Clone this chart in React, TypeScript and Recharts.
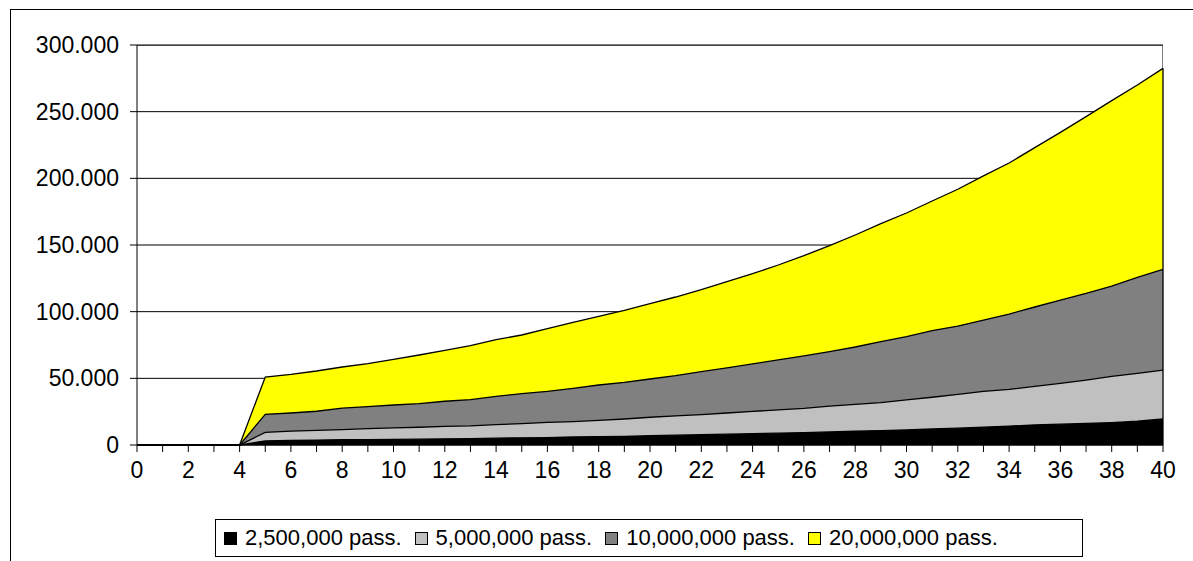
import { AreaChart, Area, XAxis, YAxis, CartesianGrid, Legend, ReferenceLine } from 'recharts'

const years = [
  0, 1, 2, 3, 4, 5, 6, 7, 8, 9, 10, 11, 12, 13, 14, 15, 16, 17, 18, 19, 20,
  21, 22, 23, 24, 25, 26, 27, 28, 29, 30, 31, 32, 33, 34, 35, 36, 37, 38, 39, 40,
]

const pass2500k = [
  0, 0, 0, 0, 0, 3000, 3500, 3700, 4000, 4100, 4200, 4400, 4600, 4700, 5100, 5400, 5600, 6000, 6200, 6500,
  7000, 7400, 7700, 8100, 8500, 8900, 9300, 9800, 10300, 10800, 11300, 12000, 12600, 13400, 14200, 15000,
  15600, 16200, 16800, 17800, 19500,
]

const pass5000k = [
  0, 0, 0, 0, 0, 9500, 10400, 10900, 11600, 12300, 12800, 13300, 14000, 14300, 15300, 16000, 16900, 17600,
  18500, 19500, 20800, 21800, 22800, 24000, 25200, 26300, 27500, 29200, 30500, 31800, 33800, 35800, 38000,
  40200, 41700, 44000, 46200, 48700, 51500, 53700, 56200,
]

const pass10000k = [
  0, 0, 0, 0, 0, 23000, 24000, 25300, 27600, 28800, 30000, 31000, 32800, 34000, 36500, 38500, 40200, 42500,
  45000, 47000, 49500, 52000, 55000, 57800, 60800, 63800, 66800, 70000, 73500, 77500, 81300, 85700, 89200,
  93700, 98200, 103500, 108700, 113700, 119200, 125700, 131700,
]

const pass20000k = [
  0, 0, 0, 0, 0, 51000, 53000, 55500, 58500, 61000, 64300, 67500, 71000, 74500, 79000, 82500, 87300, 92000,
  96500, 101000, 106000, 111000, 116500, 122500, 128500, 135000, 142000, 149500, 157500, 166000, 174000,
  183000, 191800, 201800, 211500, 223000, 234500, 246300, 258300, 270000, 282500,
]

const yTicks = [0, 50000, 100000, 150000, 200000, 250000, 300000]

const series = [
  { key: 'p2500', name: '2,500,000 pass.', color: '#000000' },
  { key: 'p5000', name: '5,000,000 pass.', color: '#C0C0C0' },
  { key: 'p10000', name: '10,000,000 pass.', color: '#808080' },
  { key: 'p20000', name: '20,000,000 pass.', color: '#FFFF00' },
]

const data = years.map((year, i) => ({
  year,
  p2500: pass2500k[i],
  p5000: pass5000k[i],
  p10000: pass10000k[i],
  p20000: pass20000k[i],
}))

const FONT = '"Liberation Sans", Arial, sans-serif'

const formatY = (v: number) => (v === 0 ? '0' : `${v / 1000}.000`)

function LegendBox() {
  return (
    <div
      style={{
        display: 'flex',
        alignItems: 'center',
        height: 38,
        border: '1px solid #000',
        background: '#fff',
        paddingLeft: 8,
        fontFamily: FONT,
        fontSize: 22,
        color: '#000',
        boxSizing: 'border-box',
      }}
    >
      {series.map((s) => (
        <div key={s.key} style={{ display: 'flex', alignItems: 'center', marginRight: 13 }}>
          <span
            style={{
              display: 'inline-block',
              width: 11,
              height: 11,
              background: s.color,
              border: '1px solid #000',
              marginRight: 8,
            }}
          />
          <span style={{ whiteSpace: 'nowrap' }}>{s.name}</span>
        </div>
      ))}
    </div>
  )
}

export default function App() {
  // areas overlap, so draw the biggest one first
  const drawOrder = [...series].reverse()
  return (
    <div
      style={{
        position: 'absolute',
        left: 0,
        top: 0,
        width: 1193,
        height: 561,
        overflow: 'hidden',
        background: '#fff',
      }}
    >
      <div
        style={{
          position: 'absolute',
          left: 10,
          top: 9,
          width: 1300,
          height: 700,
          borderTop: '1px solid #000',
          borderLeft: '1px solid #000',
        }}
      />
      <div
        style={{
          position: 'absolute',
          left: 137,
          top: 45,
          width: 1026,
          height: 400,
          borderTop: '1px solid #808080',
          borderRight: '1px solid #808080',
          boxSizing: 'border-box',
        }}
      />
      <div style={{ position: 'absolute', left: 0, top: 0 }}>
        <AreaChart
          width={1193}
          height={561}
          data={data}
          margin={{ top: 45, right: 30, bottom: 0, left: 0 }}
          style={{ fontFamily: FONT }}
        >
          <CartesianGrid vertical={false} stroke="#000" />
          <XAxis
            dataKey="year"
            type="number"
            domain={[0, 40]}
            ticks={years}
            interval={0}
            height={116}
            tickSize={7}
            tickMargin={10}
            stroke="#000"
            tick={{ fill: '#000', fontSize: 23 }}
            tickFormatter={(v: number) => (v % 2 === 0 ? String(v) : '')}
          />
          <YAxis
            type="number"
            domain={[0, 300000]}
            ticks={yTicks}
            width={137}
            tickSize={7}
            tickMargin={11}
            stroke="#000"
            tick={{ fill: '#000', fontSize: 23 }}
            tickFormatter={formatY}
          />
          {drawOrder.map((s) => (
            <Area
              key={s.key}
              type="linear"
              dataKey={s.key}
              name={s.name}
              stroke="#000"
              strokeWidth={1.3}
              fill={s.color}
              fillOpacity={1}
              isAnimationActive={false}
              dot={false}
              activeDot={false}
            />
          ))}
          <ReferenceLine
            segment={[
              { x: 40, y: 0 },
              { x: 40, y: pass20000k[pass20000k.length - 1] },
            ]}
            stroke="#000"
            strokeWidth={1.3}
          />
          <Legend
            layout="horizontal"
            verticalAlign="middle"
            align="center"
            content={() => <LegendBox />}
            wrapperStyle={{ left: 215, top: 519, width: 868, height: 38 }}
          />
        </AreaChart>
      </div>
    </div>
  )
}
